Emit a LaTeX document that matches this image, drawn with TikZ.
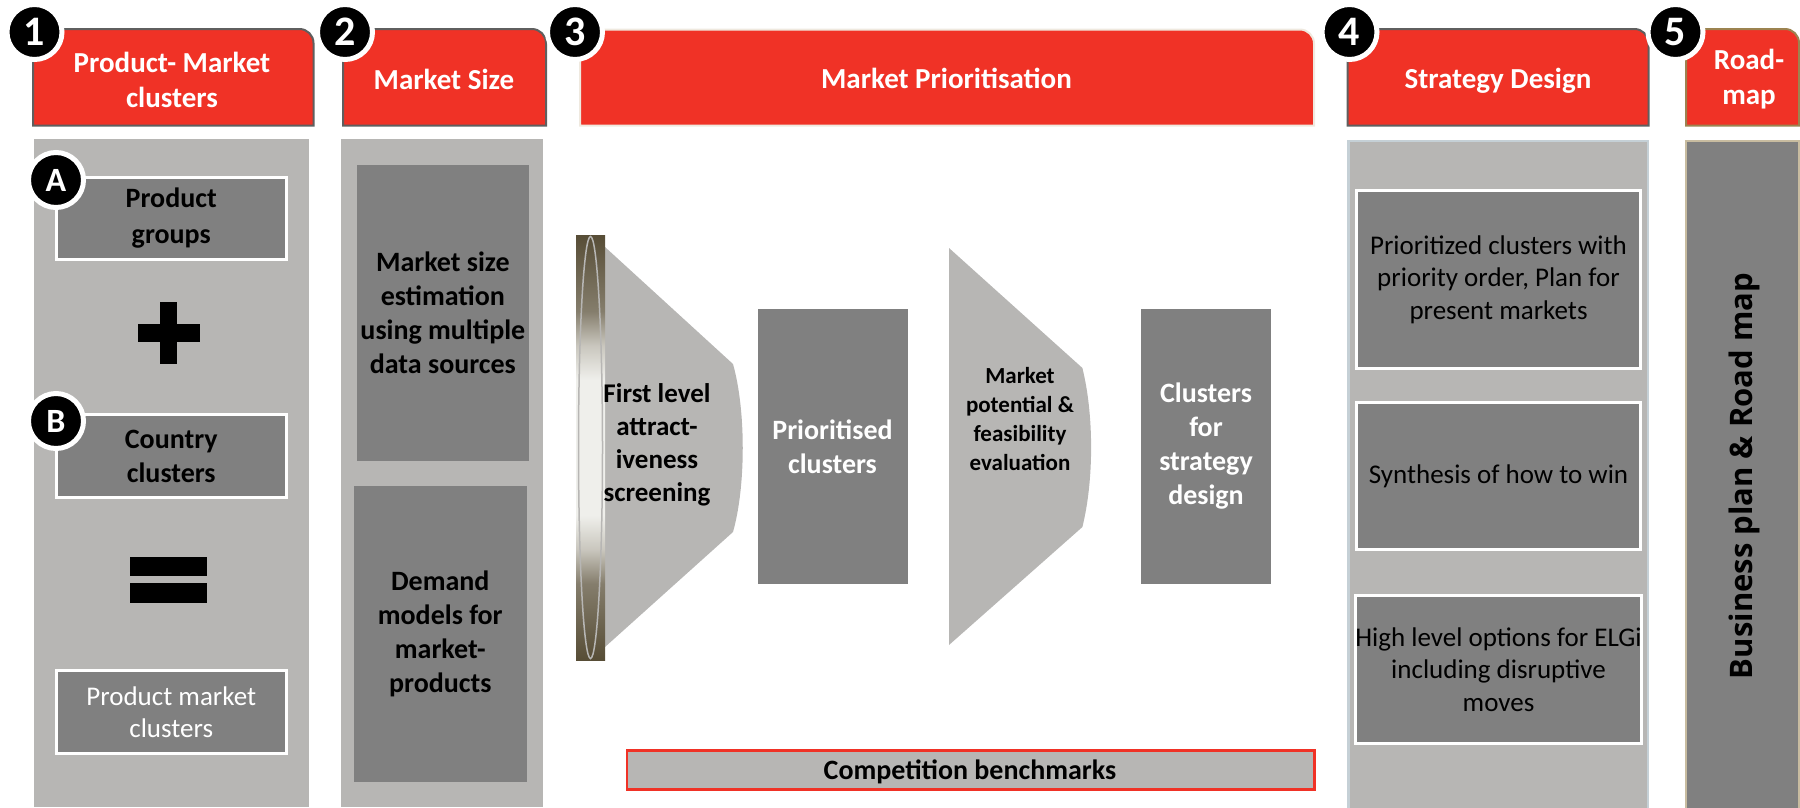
\documentclass[tikz,border=0pt]{standalone}
\usepackage{fontspec}
\setmainfont{Carlito}
\newfontfamily\roadfont{Open Sans}
\usetikzlibrary{shapes.geometric}
\definecolor{headred}{HTML}{F03226}
\definecolor{panelgrey}{HTML}{B7B6B4}
\definecolor{boxgrey}{HTML}{808080}
\definecolor{lensdark}{HTML}{574D36}
\definecolor{lenslight}{HTML}{EFEFEB}
\definecolor{tabedge}{HTML}{5F5F5F}
\definecolor{creamedge}{HTML}{EFE9DF}
\definecolor{brownedge}{HTML}{9C8350}
\definecolor{paleblue}{HTML}{C5D0D6}
\definecolor{tanedge}{HTML}{C8BCA0}
\pgfdeclareverticalshading{lensshade}{100bp}{color(0bp)=(lensdark); color(25bp)=(lensdark); color(34bp)=(lensdark!70!lenslight); color(38bp)=(lensdark!25!lenslight); color(42bp)=(lenslight); color(58bp)=(lenslight); color(62bp)=(lensdark!25!lenslight); color(66bp)=(lensdark!70!lenslight); color(75bp)=(lensdark); color(100bp)=(lensdark)}
\tikzset{
    panelbox/.style = {fill=panelgrey, inner sep=0pt},
    greybox/.style = {fill=boxgrey, inner sep=0pt, align=center},
    framedbox/.style = {greybox, draw=white, line width=3pt},
    headertab/.style = {fill=headred, draw=#1, line width=2pt},
    badge/.style = {circle, fill=black, draw=white, line width=5pt, minimum size=55pt, inner sep=0pt, text=white, font=\fontsize{42}{42}\selectfont\bfseries},
    lilbadge/.style = {badge, font=\fontsize{34}{34}\selectfont\bfseries},
    headtext/.style = {text=white, align=center, font=\fontsize{29}{35}\selectfont\bfseries},
    boldtext/.style = {font=\fontsize{28}{34}\selectfont\bfseries},
    plaintext/.style = {font=\fontsize{27}{32.5}\selectfont},
    funneltext/.style = {align=center, inner sep=0pt}
}
\begin{document}
\begin{tikzpicture}[x=1pt, y=-1pt]
    \useasboundingbox (0,0) rectangle (1800,807);

    \node[panelbox, minimum width=275pt, minimum height=668pt] (panelone) at (171.5,473) {};
    \node[panelbox, minimum width=201.7pt, minimum height=668pt] (paneltwo) at (441.85,473) {};
    \node[panelbox, draw=paleblue, line width=2.5pt, minimum width=299.5pt, minimum height=668pt] (panelfour) at (1498,475) {};
    \node[greybox, draw=tanedge, line width=2.5pt, minimum width=113pt, minimum height=668pt] (panelfive) at (1742.5,475) {};

    \draw[headertab=tabedge] (33,125.5) -- (33,29) -- (299.5,29) arc[start angle=-90, end angle=0, radius=14] -- (313.5,125.5) -- cycle;
    \draw[headertab=tabedge] (343,125.5) -- (343,29) -- (532,29) arc[start angle=-90, end angle=0, radius=14] -- (546,125.5) -- cycle;
    \draw[headertab=creamedge] (580,125.5) -- (580,29.5) -- (1300,29.5) arc[start angle=-90, end angle=0, radius=14] -- (1314,125.5) -- cycle;
    \draw[headertab=tabedge] (1347.5,125.5) -- (1347.5,29) -- (1634.5,29) arc[start angle=-90, end angle=0, radius=14] -- (1648.5,125.5) -- cycle;
    \draw[headertab=brownedge] (1686,125.5) -- (1686,29) -- (1785,29) arc[start angle=-90, end angle=0, radius=14] -- (1799,125.5) -- cycle;

    \node[headtext] (headone) at (172,79.5) {Product- Market\\clusters};
    \node[headtext] (headtwo) at (444,79) {Market Size};
    \node[headtext] (headthree) at (946.5,78) {Market Prioritisation};
    \node[headtext] (headfour) at (1498,81) {Strategy Design};
    \node[headtext] (headfive) at (1749,79) {Road-\\map};

    \node[framedbox, font=\fontsize{28}{36}\selectfont\bfseries, minimum width=229.5pt, minimum height=81.7pt] (groups) at (171.25,218.3) {Product\\groups};
    \node[framedbox, boldtext, minimum width=229.5pt, minimum height=83.3pt] (country) at (171.25,456.2) {Country\\clusters};
    \node[framedbox, plaintext, text=white, minimum width=229.5pt, minimum height=83pt] (productmarket) at (171.25,712) {Product market\\clusters};

    \fill (137.8,324) rectangle (199.8,341.7);
    \fill (160,301.7) rectangle (177,364);
    \fill (130,556.7) rectangle (207.4,576);
    \fill (130,583) rectangle (207.4,603);

    \node[greybox, boldtext, minimum width=172.3pt, minimum height=296pt] (sizeest) at (442.85,313) {Market size\\estimation\\using multiple\\data sources};
    \node[greybox, boldtext, minimum width=172.6pt, minimum height=296.3pt] (demand) at (440.3,633.85) {Demand\\models for\\market-\\products};

    \fill[panelgrey] (605,247) -- (733,364) .. controls (746,410) and (746,486) .. (733,532) -- (605,647) -- cycle;
    \node[inner sep=0pt, minimum width=29pt, minimum height=425pt, shading=lensshade] (lensbar) at (590.5,447.5) {};
    \node[ellipse, draw=panelgrey, line width=1.5pt, inner sep=0pt, minimum width=24pt, minimum height=422pt] (lens) at (590.5,447.5) {};
    \node[funneltext, font=\fontsize{27}{33}\selectfont\bfseries] (firstlevel) at (657,444.5) {First level\\attract-\\iveness\\screening};

    \node[greybox, boldtext, text=white, minimum width=150pt, minimum height=275pt] (prioritised) at (832.5,446.5) {Prioritised\\clusters};

    \fill[panelgrey] (949,248) -- (1082.4,368) .. controls (1094,415) and (1094,480) .. (1082.4,527) -- (949,645) -- cycle;
    \node[funneltext, font=\fontsize{23}{29}\selectfont\bfseries] (potential) at (1020,419) {Market\\potential \&\\feasibility\\evaluation};

    \node[greybox, boldtext, text=white, minimum width=130pt, minimum height=275pt] (forstrategy) at (1206,446.5) {Clusters\\for\\strategy\\design};

    \node[panelbox, draw=headred, line width=2.5pt, minimum width=687.4pt, minimum height=39.2pt] (benchmarks) at (970.65,769.85) {};
    \node[boldtext] (benchtext) at (970,771.5) {Competition benchmarks};

    \node[framedbox, plaintext, minimum width=284pt, minimum height=178.3pt] (prioritized) at (1498.5,279.35) {Prioritized clusters with\\priority order, Plan for\\present markets};
    \node[framedbox, plaintext, minimum width=284pt, minimum height=147pt] (synthesis) at (1498.5,476) {Synthesis of how to win};
    \node[framedbox, plaintext, minimum width=284pt, minimum height=148pt] (options) at (1498.5,669.5) {High level options for ELGi\\including disruptive\\moves};

    \node[rotate=90, font=\fontsize{31}{31}\selectfont\roadfont\bfseries] (roadmap) at (1744,476) {Business plan \& Road map};

    \node[badge] (one) at (34.5,32) {1};
    \node[badge] (two) at (345,32) {2};
    \node[badge] (three) at (575,32) {3};
    \node[badge] (four) at (1349.5,32) {4};
    \node[badge] (five) at (1675.5,32) {5};
    \node[lilbadge] (lettera) at (56,180) {A};
    \node[lilbadge] (letterb) at (56,421) {B};
\end{tikzpicture}
\end{document}
